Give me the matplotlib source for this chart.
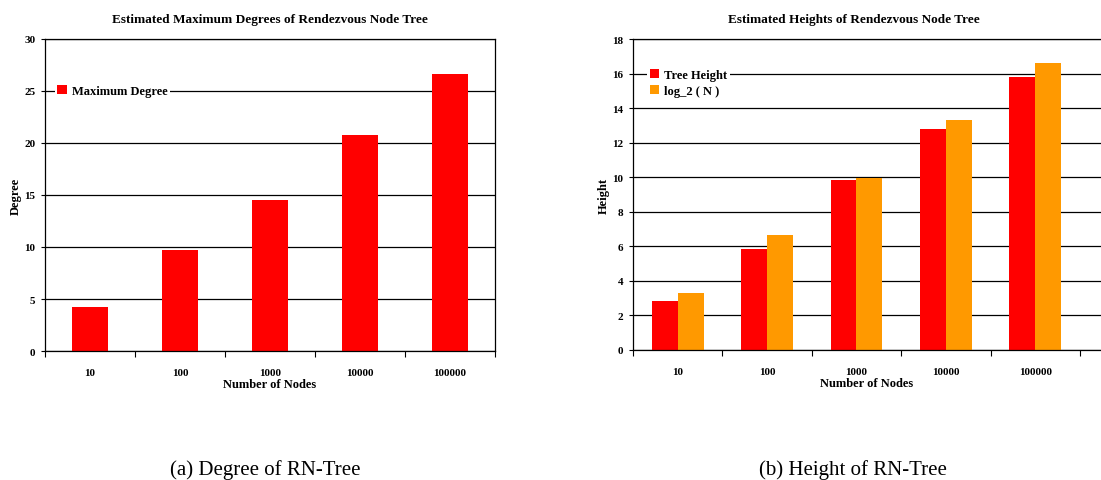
import matplotlib.pyplot as plt
import numpy as np

nodes = ['10', '100', '1000', '10000', '100000']
max_degree = [4.2, 9.75, 14.55, 20.8, 26.6]
tree_height = [2.85, 5.85, 9.85, 12.8, 15.8]
log2_n = [3.32, 6.64, 9.97, 13.29, 16.61]

plt.rcParams['font.family'] = 'Liberation Serif'
plt.rcParams['font.weight'] = 'bold'
plt.rcParams['axes.titleweight'] = 'bold'
plt.rcParams['axes.labelweight'] = 'bold'

W, H = 1101, 481
fig = plt.figure(figsize=(W / 100, H / 100), dpi=100)


def px_axes(x0, y0, x1, y1):
    return fig.add_axes([x0 / W, 1 - y1 / H, (x1 - x0) / W, (y1 - y0) / H])


def style(ax, ymax, step, ylabel):
    ax.set_ylim(0, ymax)
    ax.set_yticks(np.arange(0, ymax + 0.1, step))
    ax.yaxis.grid(True, color='black', linewidth=0.9)
    ax.set_axisbelow(True)
    ax.set_xticks(np.arange(-0.5, 5.0, 1.0), minor=False)
    ax.set_xticklabels([])
    ax.set_xticks(np.arange(5), minor=True)
    ax.set_xticklabels(nodes, minor=True)
    ax.tick_params(axis='x', which='major', length=4, width=0.8, direction='out')
    ax.tick_params(axis='x', which='minor', length=0, pad=12, labelsize=8)
    ax.tick_params(axis='y', length=3, width=0.8, labelsize=8, pad=4)
    ax.set_xlabel('Number of Nodes', fontsize=9, labelpad=1)
    ax.set_ylabel(ylabel, fontsize=9, labelpad=2)
    for s in ax.spines.values():
        s.set_linewidth(0.9)


def white_legend(ax, anchor, spacing=0.4):
    leg = ax.legend(loc='center left', bbox_to_anchor=anchor, frameon=True,
                    fontsize=9, handlelength=0.75, handleheight=0.75, handletextpad=0.4,
                    borderpad=0.2, borderaxespad=0.0, labelspacing=spacing)
    leg.get_frame().set_edgecolor('none')
    leg.get_frame().set_facecolor('white')
    leg.get_frame().set_alpha(1)
    return leg


# (a) maximum degree
ax1 = px_axes(45, 40, 495, 352)
x = np.arange(len(nodes))
ax1.bar(x, max_degree, width=0.4, color='#ff0000', label='Maximum Degree')
ax1.set_xlim(-0.5, 4.5)
style(ax1, 30, 5, 'Degree')
ax1.set_title('Estimated Maximum Degrees of Rendezvous Node Tree', fontsize=9.5, pad=12)
white_legend(ax1, (0.022, 25 / 30))

# (b) tree height
ax2 = px_axes(633, 40, 1101, 351)
bw = 0.29
ax2.bar(x - bw / 2, tree_height, width=bw, color='#ff0000', label='Tree Height')
ax2.bar(x + bw / 2, log2_n, width=bw, color='#ff9900', label='log_2 ( N )')
ax2.set_xlim(-0.5, 4.5 + 21 / 89.3)
style(ax2, 18, 2, 'Height')
ax2.spines['right'].set_visible(False)
ax2.set_title('Estimated Heights of Rendezvous Node Tree', fontsize=9.5, pad=12,
              x=0.472)
white_legend(ax2, (0.03, 15.45 / 18), spacing=0.35)

fig.text(265 / W, 1 - 470 / H, '(a) Degree of RN-Tree', ha='center', va='center',
         fontsize=15, fontweight='normal')
fig.text(853 / W, 1 - 470 / H, '(b) Height of RN-Tree', ha='center', va='center',
         fontsize=15, fontweight='normal')

fig.savefig('out.png', dpi=100)
